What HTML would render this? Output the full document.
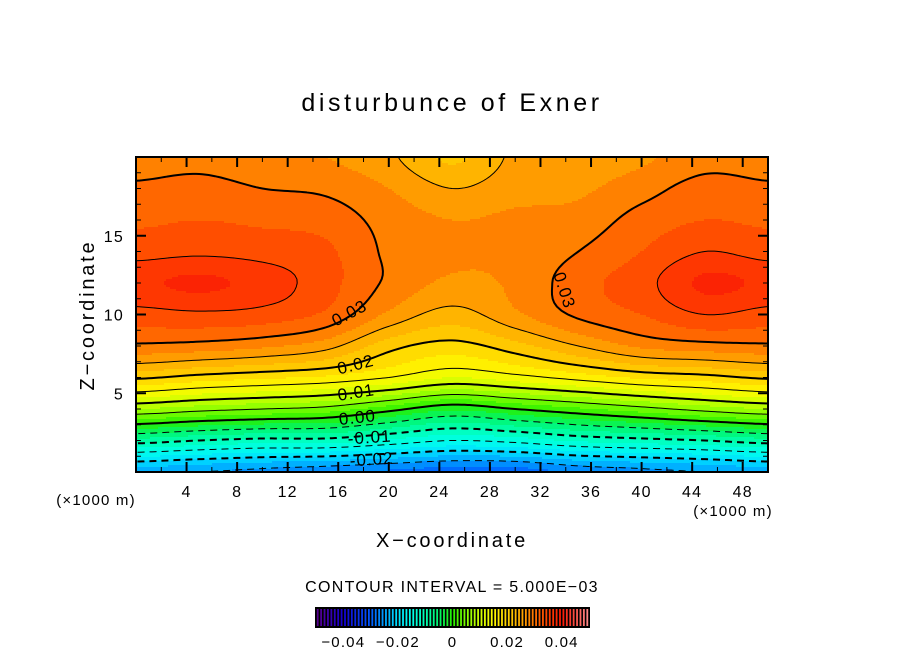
<!DOCTYPE html>
<html><head><meta charset="utf-8">
<style>
html,body{margin:0;padding:0;background:#fff;}
svg{display:block;font-family:"Liberation Sans",sans-serif;}
</style></head>
<body>
<svg id="chart" width="904" height="654" viewBox="0 0 904 654">
<text x="452" y="111" text-anchor="middle" font-size="25" letter-spacing="3.6">disturbunce of Exner</text>
<defs><clipPath id="pc"><rect x="136" y="157" width="632" height="315"/></clipPath></defs>
<g id="fills" clip-path="url(#pc)"></g>
<g id="lines" clip-path="url(#pc)"></g>
<g id="clabels" font-size="17" letter-spacing="1">
<text transform="translate(352,318) rotate(-28)" text-anchor="middle">0.03</text>
<text transform="translate(357,370) rotate(-14)" text-anchor="middle">0.02</text>
<text transform="translate(357,398) rotate(-9)" text-anchor="middle">0.01</text>
<text transform="translate(358,423) rotate(-6)" text-anchor="middle">0.00</text>
<text transform="translate(370,443) rotate(-4)" text-anchor="middle">-0.01</text>
<text transform="translate(372,465) rotate(-4)" text-anchor="middle">-0.02</text>
<text transform="translate(559,292) rotate(72)" text-anchor="middle">0.03</text>
</g>
<g id="axes"></g>
<rect x="136" y="157" width="632" height="315" fill="none" stroke="#000" stroke-width="2"/>
<text x="96" y="505" text-anchor="middle" font-size="15" letter-spacing="1.2">(×1000 m)</text>
<text x="733" y="516" text-anchor="middle" font-size="15" letter-spacing="1.2">(×1000 m)</text>
<text x="452" y="547" text-anchor="middle" font-size="20" letter-spacing="2.8">X−coordinate</text>
<text transform="translate(94,315) rotate(-90)" text-anchor="middle" font-size="20" letter-spacing="2.8">Z−coordinate</text>
<text x="452" y="592" text-anchor="middle" font-size="16" letter-spacing="1.3">CONTOUR INTERVAL = 5.000E−03</text>
<g id="cbar"></g>
</svg>
<script>
// grid data (x every 5 km from 0..50, z every 2 km from 0..20)
const xs = [0,5,10,15,20,25,30,35,40,45,50];
const zs = [0,2,4,6,8,10,12,14,16,18,20];
// each column: values at zs
const col0  = [-0.024,-0.0085,0.0075,0.0205,0.0295,0.034,0.037,0.034,0.032,0.0305,0.0285];
const col5  = [-0.025,-0.010,0.006,0.019,0.029,0.0345,0.038,0.0345,0.0325,0.031,0.029];
const col10 = [-0.026,-0.011,0.005,0.018,0.028,0.034,0.0365,0.034,0.032,0.030,0.028];
const col15 = [-0.027,-0.011,0.004,0.017,0.026,0.032,0.0335,0.033,0.0315,0.0295,0.0275];
const col20 = [-0.028,-0.013,0.001,0.015,0.021,0.027,0.0295,0.0295,0.029,0.0275,0.0255];
const col25 = [-0.029,-0.015,-0.002,0.0125,0.019,0.024,0.027,0.028,0.0275,0.025,0.022];
const col30 = [-0.029,-0.014,0.000,0.014,0.0215,0.027,0.028,0.028,0.028,0.0265,0.0255];
const col35 = [-0.027,-0.012,0.002,0.016,0.025,0.0305,0.0315,0.030,0.0285,0.027,0.0258];
const col40 = [-0.026,-0.011,0.004,0.018,0.028,0.0325,0.034,0.0325,0.031,0.029,0.027];
const col45 = [-0.025,-0.010,0.006,0.019,0.029,0.035,0.038,0.035,0.0325,0.031,0.029];
const col50 = [-0.024,-0.0085,0.0075,0.0205,0.0295,0.034,0.037,0.034,0.032,0.0305,0.0285];
const cols = [col0,col5,col10,col15,col20,col25,col30,col35,col40,col45,col50];
const contourLevels = [-0.025,-0.02,-0.015,-0.01,-0.005,0,0.005,0.01,0.015,0.02,0.025,0.03,0.035];
const xTickLabels = [4,8,12,16,20,24,28,32,36,40,44,48];
const zTickLabels = [5,10,15];
const cbarTickLabels = [-0.04,-0.02,0,0.02,0.04];
const cbarTickText = ["−0.04","−0.02","0","0.02","0.04"];

const NS="http://www.w3.org/2000/svg";
const X0=136,X1=768,Y0=472,Y1=157;
const sx=x=>X0+(x-0)/(50-0)*(X1-X0);
const sz=z=>Y0-(z-0)/(20-0)*(Y0-Y1);
function cr(p0,p1,p2,p3,t){
  return 0.5*((2*p1)+(-p0+p2)*t+(2*p0-5*p1+4*p2-p3)*t*t+(-p0+3*p1-3*p2+p3)*t*t*t);
}
function val(x,z){
  const nx=xs.length,nz=zs.length;
  let i=Math.min(nx-2,Math.max(0,Math.floor(x/5)));
  let j=Math.min(nz-2,Math.max(0,Math.floor(z/2)));
  let tx=Math.max(0,Math.min(1,(x-xs[i])/(xs[i+1]-xs[i])));
  let tz=Math.max(0,Math.min(1,(z-zs[j])/(zs[j+1]-zs[j])));
  const ci=k=>Math.max(0,Math.min(nx-1,k)), cj=k=>Math.max(0,Math.min(nz-1,k));
  const rows=[];
  for(let dj=-1;dj<=2;dj++){
    const jj=cj(j+dj);
    rows.push(cr(cols[ci(i-1)][jj],cols[ci(i)][jj],cols[ci(i+1)][jj],cols[ci(i+2)][jj],tx));
  }
  return cr(rows[0],rows[1],rows[2],rows[3],tz);
}
const stops=[[-0.05,[90,0,140]],[-0.04,[20,0,210]],[-0.03,[0,90,255]],[-0.025,[0,160,255]],[-0.02,[0,225,255]],[-0.015,[0,255,235]],[-0.01,[0,255,180]],[-0.005,[0,245,110]],[0,[40,240,0]],[0.005,[130,255,0]],[0.01,[205,255,0]],[0.015,[255,250,0]],[0.02,[255,210,0]],[0.025,[255,170,0]],[0.03,[255,115,0]],[0.035,[255,65,0]],[0.04,[250,25,5]],[0.05,[255,140,140]]];
function cmap(v){
  if(v<=stops[0][0])return stops[0][1];
  for(let k=0;k<stops.length-1;k++){
    if(v<=stops[k+1][0]){const t=(v-stops[k][0])/(stops[k+1][0]-stops[k][0]);
      return stops[k][1].map((c,q)=>Math.round(c+(stops[k+1][1][q]-c)*t));}
  }
  return stops[stops.length-1][1];
}
const band=0.0025;
function bandColor(b){const c=cmap(-0.05+(b+0.5)*band);return `rgb(${c[0]},${c[1]},${c[2]})`;}

// fills
const fg=document.getElementById('fills');
const step=2;
for(let py=Y1;py<Y0;py+=step){
  const z=(Y0-(py+step/2))/(Y0-Y1)*20;
  let runStart=X0,runBand=null;
  for(let px=X0;px<=X1;px+=step){
    let b=null;
    if(px<X1){const x=(px+step/2-X0)/(X1-X0)*50;b=Math.floor((val(x,z)+0.05)/band);}
    if(b!==runBand||px>=X1){
      if(runBand!==null){
        const r=document.createElementNS(NS,'rect');
        r.setAttribute('x',runStart);r.setAttribute('y',py);
        r.setAttribute('width',px-runStart+0.6);r.setAttribute('height',step+0.6);
        r.setAttribute('fill',bandColor(runBand));
        
        
        fg.appendChild(r);
      }
      runStart=px;runBand=b;
    }
  }
}

// contour lines via marching squares
const lg=document.getElementById('lines');
const NX=201,NZ=81;
const G=[];
for(let j=0;j<NZ;j++){G.push([]);for(let i=0;i<NX;i++)G[j].push(val(i*50/(NX-1),j*20/(NZ-1)));}
contourLevels.forEach(L=>{
  const segs=[];
  const P=(i,j)=>[sx(i*50/(NX-1)),sz(j*20/(NZ-1))];
  for(let j=0;j<NZ-1;j++)for(let i=0;i<NX-1;i++){
    const v=[G[j][i],G[j][i+1],G[j+1][i+1],G[j+1][i]];
    const c=[[i,j],[i+1,j],[i+1,j+1],[i,j+1]];
    const pts=[];
    for(let e=0;e<4;e++){
      const a=v[e],b=v[(e+1)%4];
      if((a<L)!==(b<L)){
        const t=(L-a)/(b-a);
        const pa=P(...c[e]),pb=P(...c[(e+1)%4]);
        pts.push([+(pa[0]+(pb[0]-pa[0])*t).toFixed(2),+(pa[1]+(pb[1]-pa[1])*t).toFixed(2)]);
      }
    }
    if(pts.length===2)segs.push(pts);
    else if(pts.length===4){segs.push([pts[0],pts[1]]);segs.push([pts[2],pts[3]]);}
  }
  const key=p=>p[0].toFixed(1)+','+p[1].toFixed(1);
  const adj={};
  segs.forEach((s,k)=>{[0,1].forEach(e=>{const kk=key(s[e]);(adj[kk]=adj[kk]||[]).push(k);});});
  const used=new Array(segs.length).fill(false);
  let d='';
  const extend=(poly)=>{
    while(true){
      const p=poly[poly.length-1];const list=adj[key(p)]||[];
      let found=false;
      for(const k of list){if(used[k])continue;used[k]=true;
        const s=segs[k];const nxt=key(s[0])===key(p)?s[1]:s[0];poly.push(nxt);found=true;break;}
      if(!found)break;
    }
  };
  for(let k=0;k<segs.length;k++){
    if(used[k])continue;used[k]=true;
    let fwd=[segs[k][0],segs[k][1]];extend(fwd);
    let back=[segs[k][0]];extend(back);
    const poly=back.reverse().concat(fwd.slice(1));
    d+='M'+poly.map(p=>p[0]+' '+p[1]).join('L');
  }
  const path=document.createElementNS(NS,'path');
  path.setAttribute('d',d);path.setAttribute('fill','none');path.setAttribute('stroke','#000');
  const major=Math.abs(Math.round(L/0.01)*0.01-L)<1e-6;
  path.setAttribute('stroke-width',major?2:1);
  if(L<-1e-9)path.setAttribute('stroke-dasharray','7 5');
  
  
  lg.appendChild(path);
});

// axes ticks
const ag=document.getElementById('axes');
function line(x1,y1,x2,y2,w,name){
  const l=document.createElementNS(NS,'line');
  l.setAttribute('x1',x1);l.setAttribute('y1',y1);l.setAttribute('x2',x2);l.setAttribute('y2',y2);
  l.setAttribute('stroke','#000');l.setAttribute('stroke-width',w);
  
  
  ag.appendChild(l);
}
function text(x,y,s,anchor,size,name){
  const t=document.createElementNS(NS,'text');
  t.setAttribute('x',x);t.setAttribute('y',y);t.setAttribute('text-anchor',anchor);t.setAttribute('font-size',size);
  t.setAttribute('letter-spacing','1.2');
  t.textContent=s;
  
  
  ag.appendChild(t);
}
for(let x=2;x<50;x+=2){const major=x%4===0;const len=major?10:5;
  line(sx(x),Y0,sx(x),Y0-len,major?2:1,'x-tick');line(sx(x),Y1,sx(x),Y1+len,major?2:1,'x-tick-top');}
xTickLabels.forEach(v=>text(sx(v),497,String(v),'middle',16,'x-tick-label'));
for(let z=1;z<20;z++){const major=z%5===0;const len=major?10:5;
  line(X0,sz(z),X0+len,sz(z),major?2:1,'z-tick');line(X1,sz(z),X1-len,sz(z),major?2:1,'z-tick-right');}
zTickLabels.forEach(v=>text(124,sz(v)+6,String(v),'end',16,'z-tick-label'));

// colorbar
const cg=document.getElementById('cbar');
const C0=316,C1=589;
const cs=v=>C0+(v+0.05)/0.1*(C1-C0);
const bg=document.createElementNS(NS,'rect');
bg.setAttribute('x',C0-1);bg.setAttribute('y',607);bg.setAttribute('width',C1-C0+2);bg.setAttribute('height',21);bg.setAttribute('fill','#000');


cg.appendChild(bg);
for(let k=0;k<80;k++){
  const v=-0.05+(k+0.5)*0.00125;
  const r=document.createElementNS(NS,'rect');
  r.setAttribute('x',cs(v)-0.9);r.setAttribute('y',609);r.setAttribute('width',1.8);r.setAttribute('height',17);
  const c=cmap(v);r.setAttribute('fill',`rgb(${c[0]},${c[1]},${c[2]})`);
  
  
  cg.appendChild(r);
}
cbarTickLabels.forEach((v,k)=>{
  const t=document.createElementNS(NS,'text');
  t.setAttribute('x',cs(v));t.setAttribute('y',647);t.setAttribute('text-anchor','middle');t.setAttribute('font-size',15);
  t.setAttribute('letter-spacing','1.2');
  t.textContent=cbarTickText[k];
  
  
  cg.appendChild(t);
});
</script>
</body></html>
